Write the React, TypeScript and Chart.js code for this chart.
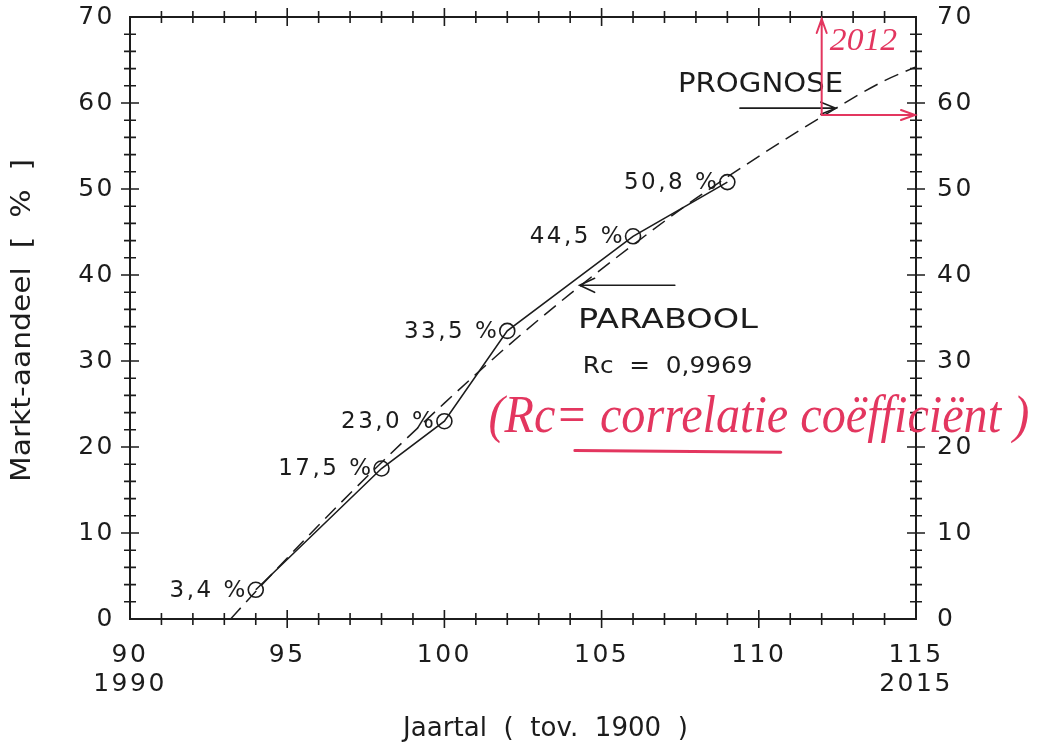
import React, { useEffect, useRef } from 'react';
import { Chart, registerables } from 'chart.js';

Chart.register(...registerables);

// ---- data ----
const years = [94, 98, 100, 102, 106, 109];
const shares = [3.4, 17.5, 23.0, 33.5, 44.5, 50.8];
const shareLabels = ['3,4 %', '17,5 %', '23,0 %', '33,5 %', '44,5 %', '50,8 %'];

const fitYears = [93.2, 94, 96, 98, 100, 102, 104, 106, 108, 110, 112, 114, 115];
const fitShares = [0, 3.2, 10.9, 18.2, 25.1, 31.7, 37.8, 43.5, 48.9, 53.8, 58.4, 62.6, 64.2];

const xTickValues = [90, 95, 100, 105, 110, 115];
const xTickLabels: (string | string[])[] = [['90', '1990'], '95', '100', '105', '110', ['115', '2015']];
const yTickValues = [0, 10, 20, 30, 40, 50, 60, 70];

const prognoseYear = 112;

const FONT = '"DejaVu Sans", sans-serif';
const HAND = '"Liberation Serif", serif';
const INK = '#1c1c1c';
const RED = '#e3365f';

function drawFit(ctx: CanvasRenderingContext2D, text: string, x0: number, x1: number, yc: number, font: string, color: string, sy = 1) {
  ctx.save();
  ctx.font = font;
  (ctx as any).letterSpacing = '0px';
  ctx.fillStyle = color;
  ctx.textBaseline = 'middle';
  ctx.textAlign = 'left';
  const w = ctx.measureText(text).width;
  ctx.translate(x0, yc);
  ctx.scale((x1 - x0) / w, sy);
  ctx.fillText(text, 0, 0);
  ctx.restore();
}

function drawArrow(ctx: CanvasRenderingContext2D, x0: number, y0: number, x1: number, y1: number, color: string, lw: number, head: number, spread: number) {
  ctx.save();
  ctx.strokeStyle = color;
  ctx.lineWidth = lw;
  ctx.lineCap = 'round';
  ctx.beginPath();
  ctx.moveTo(x0, y0);
  ctx.lineTo(x1, y1);
  const ang = Math.atan2(y1 - y0, x1 - x0);
  const ux = Math.cos(ang), uy = Math.sin(ang);
  const px = -uy, py = ux;
  ctx.moveTo(x1 - ux * head + px * spread, y1 - uy * head + py * spread);
  ctx.lineTo(x1, y1);
  ctx.lineTo(x1 - ux * head - px * spread, y1 - uy * head - py * spread);
  ctx.stroke();
  ctx.restore();
}

const zeroPad = (s: any) => {
  s.paddingTop = 0;
  s.paddingBottom = 0;
  s.paddingLeft = 0;
  s.paddingRight = 0;
};

const decorPlugin = {
  id: 'decor',
  beforeDraw(chart: any) {
    chart.ctx.letterSpacing = '2.5px';
  },
  afterDraw(chart: any) {
    const ctx: CanvasRenderingContext2D = chart.ctx;
    const { left, right, top, bottom } = chart.chartArea;
    const xs = chart.scales.x;
    const ys = chart.scales.y;
    const X = (v: number) => xs.getPixelForValue(v);
    const Y = (v: number) => ys.getPixelForValue(v);

    ctx.save();
    ctx.strokeStyle = INK;
    ctx.lineWidth = 2;
    ctx.strokeRect(left, top, right - left, bottom - top);
    ctx.lineWidth = 1.6;
    ctx.beginPath();
    for (let v = 91; v < 115; v++) {
      const len = v % 5 === 0 ? 9 : 6;
      const x = X(v);
      ctx.moveTo(x, bottom - len); ctx.lineTo(x, bottom + len);
      ctx.moveTo(x, top - len); ctx.lineTo(x, top + len);
    }
    for (let v = 2; v < 70; v += 2) {
      const len = v % 10 === 0 ? 9 : 6;
      const y = Y(v);
      ctx.moveTo(left - len, y); ctx.lineTo(left + len, y);
      ctx.moveTo(right - len, y); ctx.lineTo(right + len, y);
    }
    ctx.stroke();
    ctx.restore();

    // data labels
    ctx.save();
    ctx.font = `23px ${FONT}`;
    (ctx as any).letterSpacing = '2.5px';
    ctx.fillStyle = INK;
    ctx.textAlign = 'right';
    ctx.textBaseline = 'middle';
    years.forEach((yr, i) => {
      ctx.fillText(shareLabels[i], X(yr) - 8, Y(shares[i]) + 1);
    });
    ctx.restore();

    // axis titles
    const cx = (left + right) / 2;
    const cy = (top + bottom) / 2;
    drawFit(ctx, 'Jaartal  (  tov.  1900  )', cx - 120, cx + 165, bottom + 110, `26px ${FONT}`, INK);
    ctx.save();
    ctx.translate(23, cy + 3);
    ctx.rotate(-Math.PI / 2);
    drawFit(ctx, 'Markt-aandeel  [  %  ]', -161, 162, 0, `26px ${FONT}`, INK);
    ctx.restore();

    // annotations
    drawFit(ctx, 'PROGNOSE', X(107.43), X(112.68), Y(62.1), `27px ${FONT}`, INK);
    drawArrow(ctx, X(109.4), Y(59.4), X(112.45), Y(59.4), INK, 1.6, 15, 6);
    drawFit(ctx, 'PARABOOL', X(104.25), X(109.97), Y(34.6), `27px ${FONT}`, INK);
    drawArrow(ctx, X(107.33), Y(38.8), X(104.3), Y(38.8), INK, 1.6, 15, 7);
    drawFit(ctx, 'Rc  =  0,9969', X(104.4), X(109.8), Y(29.35), `23px ${FONT}`, INK);

    // red handwritten notes
    const yCross = Y(58.6);
    drawArrow(ctx, X(prognoseYear), yCross, X(prognoseYear), top + 2, RED, 2, 14, 5);
    drawArrow(ctx, X(prognoseYear), yCross, right - 1, yCross, RED, 2, 14, 5);
    drawFit(ctx, '2012', X(112.26), X(114.4), Y(67.1), `italic 32px ${HAND}`, RED);
    drawFit(ctx, '(Rc= correlatie coëfficiënt )', X(101.4), X(118.6), Y(23.3), `italic 42px ${HAND}`, RED, 1.25);
    ctx.save();
    ctx.strokeStyle = RED;
    ctx.lineWidth = 3;
    ctx.lineCap = 'round';
    ctx.beginPath();
    ctx.moveTo(X(104.15), Y(19.6));
    ctx.lineTo(X(110.7), Y(19.4));
    ctx.stroke();
    ctx.restore();
  },
};

export default function App() {
  const ref = useRef<HTMLCanvasElement | null>(null);

  useEffect(() => {
    document.body.style.margin = '0';
    const canvas = ref.current;
    if (!canvas) return;
    const tickFont = { family: FONT, size: 25, lineHeight: 1.15 };
    const chart = new Chart(canvas, {
      type: 'line',
      data: {
        datasets: [
          {
            label: 'Markt-aandeel',
            data: years.map((x, i) => ({ x, y: shares[i] })),
            borderColor: INK,
            borderWidth: 1.6,
            tension: 0,
            pointRadius: 7.5,
            pointBorderWidth: 1.6,
            pointBorderColor: INK,
            pointBackgroundColor: 'rgba(0,0,0,0)',
            fill: false,
          },
          {
            label: 'Parabool',
            data: fitYears.map((x, i) => ({ x, y: fitShares[i] })),
            borderColor: INK,
            borderWidth: 1.5,
            borderDash: [15, 8],
            cubicInterpolationMode: 'monotone',
            pointRadius: 0,
            fill: false,
          },
        ],
      },
      options: {
        responsive: false,
        animation: false,
        events: [],
        layout: { padding: { top: 17, left: 0, right: 0, bottom: 0 } },
        plugins: {
          legend: { display: false },
          tooltip: { enabled: false },
          title: { display: false },
        },
        scales: {
          x: {
            type: 'linear',
            position: 'bottom',
            min: 90,
            max: 115,
            grid: { display: false, drawTicks: false },
            border: { display: false },
            afterBuildTicks: (s: any) => {
              s.ticks = xTickValues.map((v) => ({ value: v }));
            },
            afterFit: (s: any) => {
              s.height = 125;
              zeroPad(s);
            },
            ticks: {
              autoSkip: false,
              maxRotation: 0,
              padding: 22,
              color: INK,
              font: tickFont,
              callback: (v: any) => {
                const i = xTickValues.indexOf(Number(v));
                return i >= 0 ? xTickLabels[i] : '';
              },
            },
          },
          y: {
            type: 'linear',
            position: 'left',
            min: 0,
            max: 70,
            grid: { display: false, drawTicks: false },
            border: { display: false },
            afterBuildTicks: (s: any) => {
              s.ticks = yTickValues.map((v) => ({ value: v }));
            },
            afterFit: (s: any) => {
              s.width = 130;
              zeroPad(s);
            },
            ticks: { padding: 15, color: INK, font: tickFont },
          },
          y2: {
            type: 'linear',
            position: 'right',
            display: true,
            min: 0,
            max: 70,
            grid: { display: false, drawTicks: false },
            border: { display: false },
            afterBuildTicks: (s: any) => {
              s.ticks = yTickValues.map((v) => ({ value: v }));
            },
            afterFit: (s: any) => {
              s.width = 128;
              zeroPad(s);
            },
            ticks: { padding: 21, color: INK, font: tickFont },
          },
        },
      } as any,
      plugins: [decorPlugin],
    });
    return () => chart.destroy();
  }, []);

  return (
    <div style={{ width: 1044, height: 744, background: '#fff' }}>
      <canvas ref={ref} width={1044} height={744} style={{ display: 'block' }} />
    </div>
  );
}
